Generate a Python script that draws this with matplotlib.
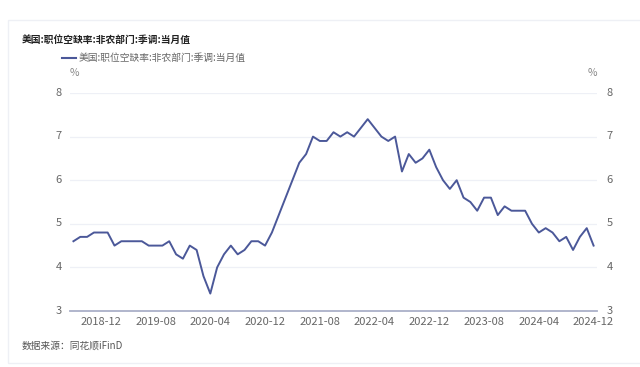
import pandas as pd
import matplotlib
matplotlib.use('Agg')
import matplotlib.pyplot as plt
from matplotlib.patches import Rectangle
from matplotlib.transforms import ScaledTranslation

plt.rcParams['font.family'] = ['Noto Sans CJK SC', 'DejaVu Sans']

# data: US job openings rate, nonfarm, SA, monthly (2018-08 .. 2024-12)
months = pd.date_range('2018-08-01', '2024-12-01', freq='MS').strftime('%Y-%m').tolist()
rate = [4.6, 4.7, 4.7, 4.8, 4.8, 4.8, 4.5, 4.6, 4.6, 4.6, 4.6, 4.5, 4.5, 4.5,
        4.6, 4.3, 4.2, 4.5, 4.4, 3.8, 3.4, 4.0, 4.3, 4.5, 4.3, 4.4, 4.6, 4.6,
        4.5, 4.8, 5.2, 5.6, 6.0, 6.4, 6.6, 7.0, 6.9, 6.9, 7.1, 7.0, 7.1,
        7.0, 7.2, 7.4, 7.2, 7.0, 6.9, 7.0, 6.2, 6.6, 6.4, 6.5, 6.7, 6.3,
        6.0, 5.8, 6.0, 5.6, 5.5, 5.3, 5.6, 5.6, 5.2, 5.4, 5.3, 5.3, 5.3,
        5.0, 4.8, 4.9, 4.8, 4.6, 4.7, 4.4, 4.7, 4.9, 4.5]
tick_labels = ['2018-12', '2019-08', '2020-04', '2020-12', '2021-08',
               '2022-04', '2022-12', '2023-08', '2024-04', '2024-12']
yticks = [3, 4, 5, 6, 7, 8]

title = '美国:职位空缺率:非农部门:季调:当月值'
source = '数据来源：同花顺iFinD'

line_color = '#4b5899'
W, H = 640, 367
fig = plt.figure(figsize=(W / 100, H / 100), dpi=100)
fig.patch.set_facecolor('white')

# card border
fig.patches.append(Rectangle((8 / W, 1 - 363 / H), 700 / W, (363 - 20) / H,
                             transform=fig.transFigure, fill=False,
                             edgecolor='#eef0f5', lw=1))

ax = fig.add_axes([70 / W, 56 / H, (597 - 70) / W, 218 / H])
x = list(range(len(months)))
ax.plot(x, rate, color=line_color, lw=1.4)

ax.set_xlim(-0.5, len(months) - 0.5)
ax.set_ylim(3, 8)
ax.set_yticks(yticks)
ax.set_xticks([months.index(t) for t in tick_labels])
ax.set_xticklabels(tick_labels)
for y in yticks[1:]:
    ax.axhline(y, color='#eef0f6', lw=0.9, zorder=0)

for s in ['top', 'left', 'right']:
    ax.spines[s].set_visible(False)
ax.spines['bottom'].set_color('#aab0c8')
ax.spines['bottom'].set_linewidth(1.3)
ax.tick_params(axis='both', length=0, labelsize=8, colors='#666666')
ax.tick_params(axis='x', pad=4)
ax.tick_params(axis='y', pad=6)

ax2 = ax.twinx()
ax2.set_ylim(3, 8)
ax2.set_yticks(yticks)
for s in ['top', 'left', 'right', 'bottom']:
    ax2.spines[s].set_visible(False)
ax2.tick_params(axis='y', length=0, labelsize=8, colors='#666666', pad=7)

# nudge y labels up a little, like the reference
shift = ScaledTranslation(0, 1 / 72, fig.dpi_scale_trans)
for lbl in ax.get_yticklabels() + ax2.get_yticklabels():
    lbl.set_transform(lbl.get_transform() + shift)

fig.text(22 / W, 1 - 40 / H, title, fontsize=7, fontweight='bold',
         color='#222222', va='center', ha='left')
# legend
fig.add_artist(plt.Line2D([62 / W, 76 / W], [1 - 58 / H, 1 - 58 / H],
                          color=line_color, lw=1.5))
fig.text(79 / W, 1 - 58 / H, title, fontsize=7, color='#666666',
         va='center', ha='left')
fig.text(74 / W, 1 - 73 / H, '%', fontsize=7.5, color='#888888',
         va='center', ha='center')
fig.text(592 / W, 1 - 73 / H, '%', fontsize=7.5, color='#888888',
         va='center', ha='center')
fig.text(22 / W, 1 - 346 / H, source, fontsize=7, color='#555555',
         va='center', ha='left')

fig.savefig('out.png', dpi=100)
